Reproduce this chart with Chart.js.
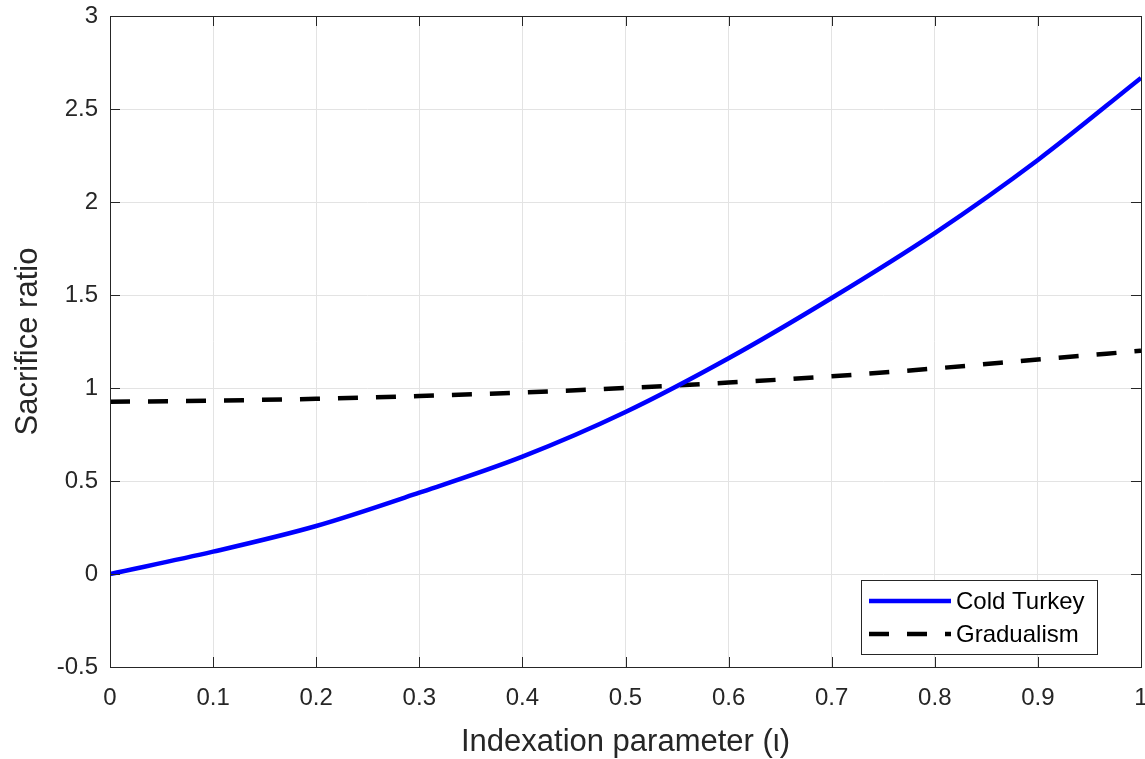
<!DOCTYPE html>
<html>
<head>
<meta charset="utf-8">
<script src="https://cdn.jsdelivr.net/npm/chart.js@4.4.1/dist/chart.umd.min.js"></script>
<style>
  html, body { margin: 0; padding: 0; background: #fff; }
  #wrap { width: 1145px; height: 759px; }
</style>
</head>
<body>
<div id="wrap"><canvas id="c" width="1145" height="759"></canvas></div>
<script>
// indexation parameter values
const iota = [0, 0.1, 0.2, 0.3, 0.4, 0.5, 0.6, 0.7, 0.8, 0.9, 1.0]
// sacrifice ratio
const coldTurkey = [0, 0.12, 0.258, 0.437, 0.631, 0.871, 1.16, 1.484, 1.833, 2.226, 2.667]
const gradualism = [0.926, 0.932, 0.942, 0.957, 0.976, 1.0, 1.029, 1.063, 1.105, 1.153, 1.2]

const xTicks = [0, 0.1, 0.2, 0.3, 0.4, 0.5, 0.6, 0.7, 0.8, 0.9, 1]
const xTickLabels = ['0', '0.1', '0.2', '0.3', '0.4', '0.5', '0.6', '0.7', '0.8', '0.9', '1']
const yTicks = [-0.5, 0, 0.5, 1, 1.5, 2, 2.5, 3]
const yTickLabels = ['-0.5', '0', '0.5', '1', '1.5', '2', '2.5', '3']

const AXIS = '#262626'
const GRID = '#e3e3e3'
const FONT = '"Liberation Sans", Arial, Helvetica, sans-serif'

const pts = ys => iota.map((x, i) => ({ x, y: ys[i] }))

// fixed axis sizes, no extra padding for overhanging labels
const fixSize = (prop, size) => s => {
  s[prop] = size
  s.paddingLeft = s.paddingRight = s.paddingTop = s.paddingBottom = 0
}

/* box round the plot + inward ticks on all four sides */
const boxPlugin = {
  id: 'box',
  afterDatasetsDraw(chart) {
    const { ctx, chartArea: a, scales } = chart
    const L = 10
    ctx.save()
    ctx.strokeStyle = AXIS
    ctx.lineWidth = 1
    ctx.beginPath()
    xTicks.forEach(v => {
      const px = Math.round(scales.x.getPixelForValue(v)) + 0.5
      ctx.moveTo(px, a.bottom); ctx.lineTo(px, a.bottom - L)
      ctx.moveTo(px, a.top);    ctx.lineTo(px, a.top + L)
    })
    yTicks.forEach(v => {
      const py = Math.round(scales.y.getPixelForValue(v)) + 0.5
      ctx.moveTo(a.left, py);  ctx.lineTo(a.left + L, py)
      ctx.moveTo(a.right, py); ctx.lineTo(a.right - L, py)
    })
    ctx.stroke()
    ctx.strokeRect(Math.round(a.left) + 0.5, Math.round(a.top) + 0.5,
                   Math.round(a.right - a.left), Math.round(a.bottom - a.top))
    ctx.restore()
  }
}

/* MATLAB-style legend box, bottom right inside the axes */
const legendPlugin = {
  id: 'boxLegend',
  afterDraw(chart) {
    const { ctx, chartArea: a } = chart
    const w = 236, h = 74
    const x0 = a.right - 44 - w, y0 = a.bottom - 13 - h
    ctx.save()
    ctx.fillStyle = '#fff'
    ctx.fillRect(x0, y0, w, h)
    ctx.strokeStyle = AXIS
    ctx.lineWidth = 1
    ctx.strokeRect(x0 + 0.5, y0 + 0.5, w, h)
    chart.data.datasets.forEach((ds, i) => {
      const yy = y0 + 21 + i * 33
      ctx.beginPath()
      ctx.strokeStyle = ds.borderColor
      ctx.lineWidth = ds.borderWidth
      ctx.setLineDash(ds.borderDash || [])
      ctx.moveTo(x0 + 8, yy); ctx.lineTo(x0 + 90, yy)
      ctx.stroke()
      ctx.setLineDash([])
      ctx.fillStyle = '#000'
      ctx.font = '24px ' + FONT
      ctx.textBaseline = 'middle'
      ctx.fillText(ds.label, x0 + 95, yy + 1)
    })
    ctx.restore()
  }
}

new Chart(document.getElementById('c'), {
  type: 'line',
  data: {
    datasets: [
      {
        label: 'Cold Turkey',
        data: pts(coldTurkey),
        borderColor: '#0000ff',
        borderWidth: 4.5,
        pointRadius: 0,
        cubicInterpolationMode: 'monotone',
      },
      {
        label: 'Gradualism',
        data: pts(gradualism),
        borderColor: '#000000',
        borderWidth: 4.5,
        borderDash: [20, 18],
        pointRadius: 0,
        cubicInterpolationMode: 'monotone',
      },
    ],
  },
  options: {
    responsive: false,
    animation: false,
    layout: { autoPadding: false, padding: { top: 16, right: 4, left: 0, bottom: 0 } },
    plugins: { legend: { display: false }, tooltip: { enabled: false } },
    scales: {
      x: {
        type: 'linear',
        min: 0, max: 1,
        afterBuildTicks: s => { s.ticks = xTicks.map(v => ({ value: v })) },
        afterFit: fixSize('height', 92),
        ticks: {
          callback: (v, i) => xTickLabels[i],
          color: AXIS, font: { family: FONT, size: 24 }, padding: 17, maxRotation: 0,
        },
        grid: { color: GRID, drawTicks: false },
        border: { display: false },
        title: {
          display: true, text: 'Indexation parameter (\u03b9)',
          color: AXIS, font: { family: FONT, size: 31 }, padding: { top: 4, bottom: -2 },
        },
      },
      y: {
        type: 'linear',
        min: -0.5, max: 3,
        afterBuildTicks: s => { s.ticks = yTicks.map(v => ({ value: v })) },
        afterFit: fixSize('width', 110),
        ticks: {
          callback: (v, i) => yTickLabels[i],
          color: AXIS, font: { family: FONT, size: 24 }, padding: 12,
        },
        grid: { color: GRID, drawTicks: false },
        border: { display: false },
        title: {
          display: true, text: 'Sacrifice ratio',
          color: AXIS, font: { family: FONT, size: 31 }, padding: { top: 10 },
        },
      },
    },
  },
  plugins: [boxPlugin, legendPlugin],
})
</script>
</body>
</html>
